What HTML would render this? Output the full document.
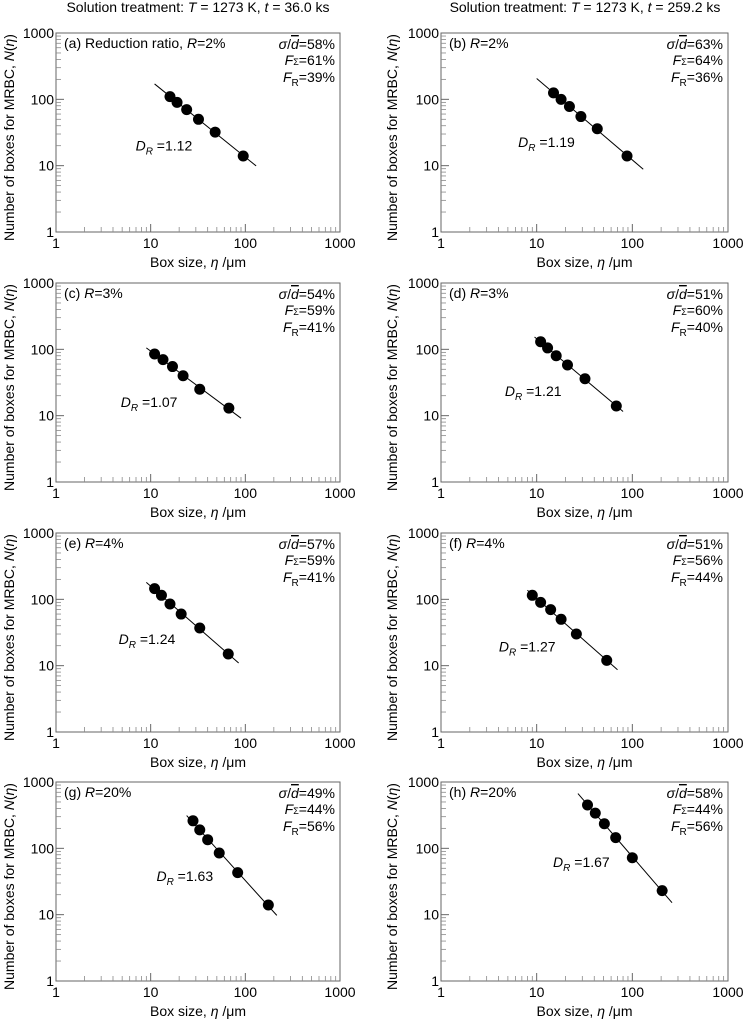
<!DOCTYPE html>
<html><head><meta charset="utf-8">
<style>
html,body{margin:0;padding:0;background:#fff;}
svg{display:block;font-family:"Liberation Sans",sans-serif;}
</style></head>
<body>
<svg id="fig" width="746" height="1024" viewBox="0 0 746 1024" xmlns="http://www.w3.org/2000/svg">
<text x="198" y="12" font-size="14" text-anchor="middle">Solution treatment: <tspan font-style="italic">T</tspan> = 1273 K, <tspan font-style="italic">t</tspan> = 36.0 ks</text>
<text x="585" y="12" font-size="14" text-anchor="middle">Solution treatment: <tspan font-style="italic">T</tspan> = 1273 K, <tspan font-style="italic">t</tspan> = 259.2 ks</text>
</svg>
<script>
// Panel data: box sizes (um) and counts N(eta)
const panelIds = ['a','b','c','d','e','f','g','h'];
const xA = [16,19,24,32,48,95];        const yA = [110,90,70,50,32,14];
const xB = [15,18,22,29,43,88];        const yB = [125,100,78,55,36,14];
const xC = [11,13.5,17,22,33,67];      const yC = [85,70,55,40,25,13];
const xD = [11,13,16,21,32,68];        const yD = [130,105,80,58,36,14];
const xE = [11,13,16,21,33,66];        const yE = [145,115,85,60,37,15];
const xF = [9,11,14,18,26,54];         const yF = [115,90,70,50,30,12];
const xG = [28,33,40,53,83,175];       const yG = [260,190,135,85,43,14];
const xH = [34,41,51,67,100,205];      const yH = [450,340,235,145,72,23];
// fit line extent (box size range)
const lineStart = [11,10,9,9.5,9,8,24,27];
const lineEnd = [130,130,90,80,85,70,215,260];
const labels = ['(a) Reduction ratio, ','(b) ','(c) ','(d) ','(e) ','(f) ','(g) ','(h) '];
const ratios = ['2%','2%','3%','3%','4%','4%','20%','20%'];
const dValues = ['1.12','1.19','1.07','1.21','1.24','1.27','1.63','1.67'];
const sigmaVals = ['58%','63%','54%','51%','57%','51%','49%','58%'];
const fSigmaVals = ['61%','64%','59%','60%','59%','56%','44%','44%'];
const fRVals = ['39%','36%','41%','40%','41%','44%','56%','56%'];
const xTicks = [1,10,100,1000];
const yTicks = [1,10,100,1000];
const xs = [xA,xB,xC,xD,xE,xF,xG,xH];
const ys = [yA,yB,yC,yD,yE,yF,yG,yH];

const svg = document.getElementById('fig');
const NS = 'http://www.w3.org/2000/svg';
function mk(tag, attrs, parent){
  const e = document.createElementNS(NS, tag);
  for (const k in attrs) e.setAttribute(k, attrs[k]);
  (parent||svg).appendChild(e);
  return e;
}
const colL = [56, 441], colW = [284, 287];
const rowT = [33, 283, 533, 782], H = 199;

panelIds.forEach((id, i) => {
  const c = i % 2, r = Math.floor(i / 2);
  const L = colL[c], W = colW[c], T = rowT[r];
  const g = mk('g', {});
  
  
  const sx = v => L + (Math.log10(v)) / 3 * W;
  const sy = v => T + H - (Math.log10(v)) / 3 * H;
  const fr = mk('rect', {x:L, y:T, width:W, height:H, fill:'none', stroke:'#666', 'stroke-width':1}, g);
  
  
  for (let d = 0; d < 3; d++) {
    for (let m = 2; m <= 9; m++) {
      const v = Math.pow(10, d) * m;
      mk('line', {x1:sx(v), x2:sx(v), y1:T+H, y2:T+H-5, stroke:'#888', 'stroke-width':0.8}, g);
      mk('line', {x1:L, x2:L+5, y1:sy(v), y2:sy(v), stroke:'#888', 'stroke-width':0.8}, g);
    }
  }
  xTicks.forEach(v => {
    mk('line', {x1:sx(v), x2:sx(v), y1:T+H, y2:T+H-8, stroke:'#666', 'stroke-width':1}, g);
    const t = mk('text', {x:sx(v), y:T+H+16, 'font-size':14, 'text-anchor':'middle'}, g);
    
    
    t.textContent = v;
  });
  yTicks.forEach(v => {
    mk('line', {x1:L, x2:L+8, y1:sy(v), y2:sy(v), stroke:'#666', 'stroke-width':1}, g);
    const t = mk('text', {x:L-2, y:sy(v)+5, 'font-size':14, 'text-anchor':'end'}, g);
    
    
    t.textContent = v;
  });
  const xt = mk('text', {x:L+W/2, y:T+H+35, 'font-size':14, 'text-anchor':'middle'}, g);
  
  
  xt.innerHTML = 'Box size, <tspan font-style="italic">η</tspan> /μm';
  const yx = c === 0 ? 9 : 392, yy = T + H/2 + 5;
  const yt = mk('text', {x:yx, y:yy, 'font-size':14, 'text-anchor':'middle', transform:'rotate(-90 '+yx+' '+yy+')', dy:'5'}, g);
  
  
  yt.innerHTML = 'Number of boxes for MRBC, <tspan font-style="italic">N</tspan>(<tspan font-style="italic">η</tspan>)';
  const lx = xs[i].map(Math.log10), ly = ys[i].map(Math.log10);
  const n = lx.length, mx = lx.reduce((a,b)=>a+b)/n, my = ly.reduce((a,b)=>a+b)/n;
  let sxy = 0, sxx = 0;
  for (let k = 0; k < n; k++) { sxy += (lx[k]-mx)*(ly[k]-my); sxx += (lx[k]-mx)**2; }
  const slope = sxy / sxx, icpt = my - slope * mx;
  const f = v => Math.pow(10, icpt + slope * Math.log10(v));
  const ln = mk('line', {x1:sx(lineStart[i]), y1:sy(f(lineStart[i])), x2:sx(lineEnd[i]), y2:sy(f(lineEnd[i])), stroke:'#000', 'stroke-width':1}, g);
  
  
  xs[i].forEach((v, k) => {
    const p = mk('circle', {cx:sx(v), cy:sy(ys[i][k]), r:5.5, fill:'#000'}, g);
    
    
  });
  const pl = mk('text', {x:L+8, y:T+15, 'font-size':14}, g);
  
  
  pl.innerHTML = labels[i] + '<tspan font-style="italic">R</tspan>=' + ratios[i];
  const s1 = mk('text', {x:L+W-5, y:T+16, 'font-size':14, 'text-anchor':'end'}, g);
  
  
  s1.innerHTML = '<tspan font-style="italic">σ</tspan>/<tspan font-style="italic" text-decoration="overline">d</tspan>=' + sigmaVals[i];
  const s2 = mk('text', {x:L+W-5, y:T+32, 'font-size':14, 'text-anchor':'end'}, g);
  
  
  s2.innerHTML = '<tspan font-style="italic">F</tspan><tspan font-size="9">Σ</tspan>=' + fSigmaVals[i];
  const s3 = mk('text', {x:L+W-5, y:T+49, 'font-size':14, 'text-anchor':'end'}, g);
  
  
  s3.innerHTML = '<tspan font-style="italic">F</tspan><tspan font-size="10" dy="4">R</tspan><tspan dy="-4">=</tspan>' + fRVals[i];
  const mid = Math.sqrt(xs[i][2] * xs[i][3]);
  const dl = mk('text', {x:sx(mid)-57, y:sy(f(mid))+36, 'font-size':14}, g);
  
  
  dl.innerHTML = '<tspan font-style="italic">D</tspan><tspan font-size="10" dy="4" font-style="italic">R</tspan><tspan dy="-4"> =</tspan>' + dValues[i];
});
</script>
</body></html>
